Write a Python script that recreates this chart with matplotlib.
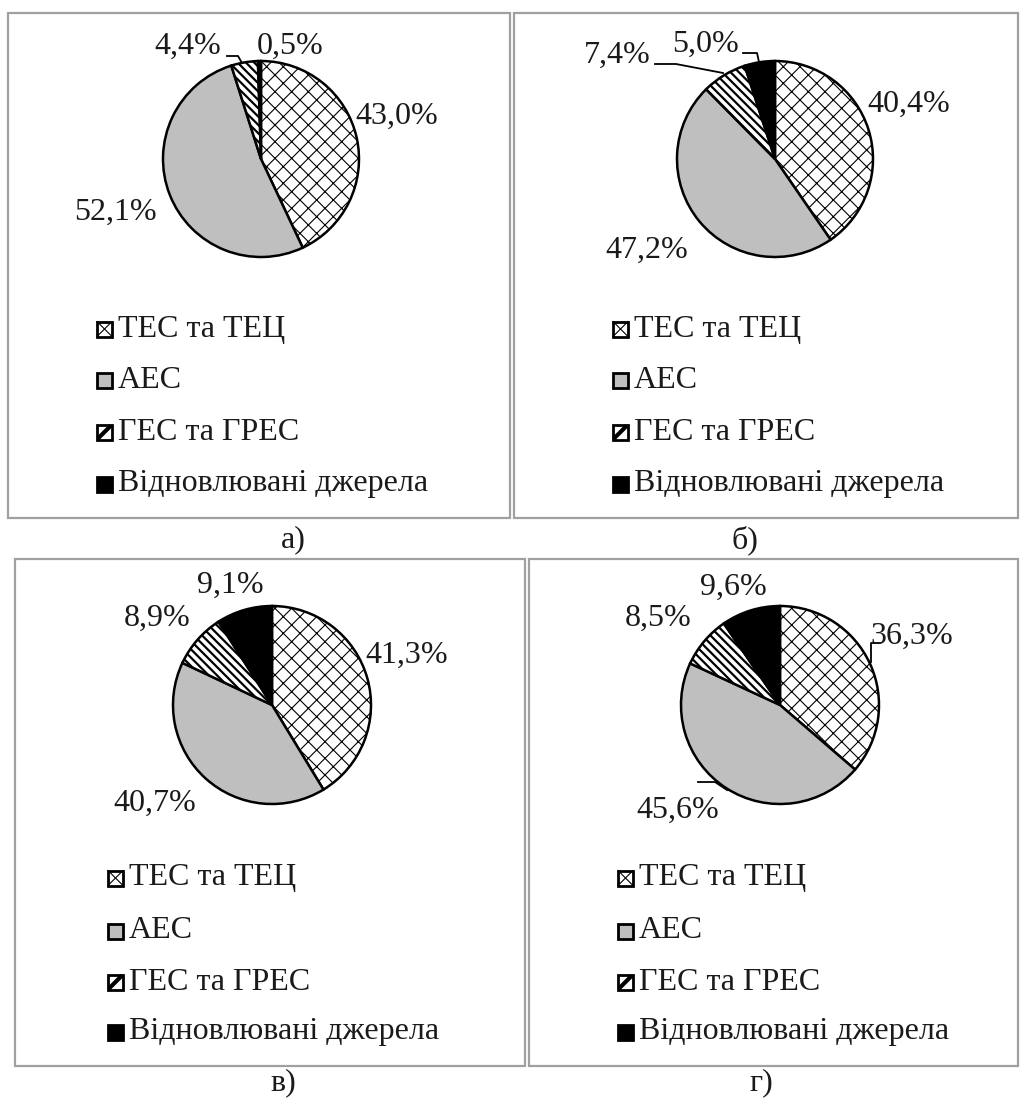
import matplotlib
matplotlib.use("Agg")
import matplotlib.pyplot as plt
from matplotlib.patches import Rectangle

W, H = 1021, 1100

plt.rcParams['font.family'] = ['Liberation Serif', 'DejaVu Serif']

categories = ['ТЕС та ТЕЦ', 'АЕС', 'ГЕС та ГРЕС', 'Відновлювані джерела']
captions = ['а)', 'б)', 'в)', 'г)']

share_a = [43.0, 52.1, 4.4, 0.5]
share_b = [40.4, 47.2, 7.4, 5.0]
share_c = [41.3, 40.7, 8.9, 9.1]
share_d = [36.3, 45.6, 8.5, 9.6]

fills = ['white', '#bfbfbf', 'white', 'black']
pie_hatch = ['xx', None, '\\\\\\\\', None]
hatch_lw = [0.8, 0, 1.6, 0]
TXT = '#1a1a1a'

# layout in pixels, y measured from the top
layout = [
    dict(frame=(8, 13, 510, 518), center=(261, 159), r=98,
         labels=[(397, 116), (115, 212), (188, 46), (290, 46)],
         caption=(293, 540), legend=(97, [329, 380, 432, 484]),
         leaders=[[(227, 56), (238, 56), (242, 63)]]),
    dict(frame=(514, 13, 1018, 518), center=(775, 159), r=98,
         labels=[(909, 104), (647, 250), (617, 55), (705, 44)],
         caption=(745, 540), legend=(613, [329, 380, 432, 484]),
         leaders=[[(655, 64), (676, 64), (723, 73)],
                  [(743, 53), (757, 53), (759, 62)]]),
    dict(frame=(15, 559, 525, 1066), center=(272, 705), r=99,
         labels=[(407, 655), (155, 803), (157, 618), (230, 585)],
         caption=(283, 1083), legend=(108, [878, 931, 982, 1032]),
         leaders=[]),
    dict(frame=(529, 559, 1018, 1066), center=(780, 705), r=99,
         labels=[(912, 636), (678, 810), (658, 618), (733, 587)],
         caption=(761, 1083), legend=(618, [878, 931, 982, 1032]),
         leaders=[[(880, 643), (871, 643), (871, 662)],
                  [(698, 782), (715, 782), (727, 790)]]),
]

shares = [share_a, share_b, share_c, share_d]


def pct(v):
    return f"{v:.1f}%".replace('.', ',')


fig = plt.figure(figsize=(W / 100, H / 100), dpi=100)
ax = fig.add_axes([0, 0, 1, 1])

for values, cap, lay in zip(shares, captions, layout):
    x0, y0, x1, y1 = lay['frame']
    ax.add_patch(Rectangle((x0, H - y1), x1 - x0, y1 - y0, fill=False,
                           edgecolor='#a0a0a0', linewidth=1.6))

    cx, cy = lay['center']
    wedges, _ = ax.pie(values, center=(cx, H - cy), radius=lay['r'],
                       startangle=90, counterclock=False, colors=fills,
                       wedgeprops=dict(edgecolor='black', linewidth=1.8))
    for w, h, lw in zip(wedges, pie_hatch, hatch_lw):
        if h:
            w.set_hatch(h)
            if hasattr(w, 'set_hatch_linewidth'):
                w.set_hatch_linewidth(lw)

    for v, (tx, ty) in zip(values, lay['labels']):
        ax.text(tx, H - ty, pct(v), ha='center', va='center',
                fontsize=23, color=TXT)

    for pts in lay['leaders']:
        ax.plot([p[0] for p in pts], [H - p[1] for p in pts],
                color='black', linewidth=1.3)

    # legend: square keys drawn next to the category names
    lx, rows = lay['legend']
    s = 15
    for i, (name, fc, ry) in enumerate(zip(categories, fills, rows)):
        kx, ky = lx, H - ry - s / 2
        ax.add_patch(Rectangle((kx, ky), s, s, facecolor=fc,
                               edgecolor='black', linewidth=2.0, zorder=3))
        if i == 0:
            ax.plot([kx, kx + s], [ky, ky + s], color='black', lw=0.8, zorder=4)
            ax.plot([kx, kx + s], [ky + s, ky], color='black', lw=0.8, zorder=4)
        elif i == 2:
            ax.plot([kx + 1, kx + s - 1], [ky + 1, ky + s - 1],
                    color='black', lw=3.0, zorder=4, solid_capstyle='butt')
        ax.text(lx + s + 6, H - ry, name, ha='left', va='center',
                fontsize=23, color=TXT)

    ax.text(lay['caption'][0], H - lay['caption'][1], cap,
            ha='center', va='center', fontsize=23, color=TXT)

ax.set_xlim(0, W)
ax.set_ylim(0, H)
ax.axis('off')

fig.savefig('out.png', dpi=100)
